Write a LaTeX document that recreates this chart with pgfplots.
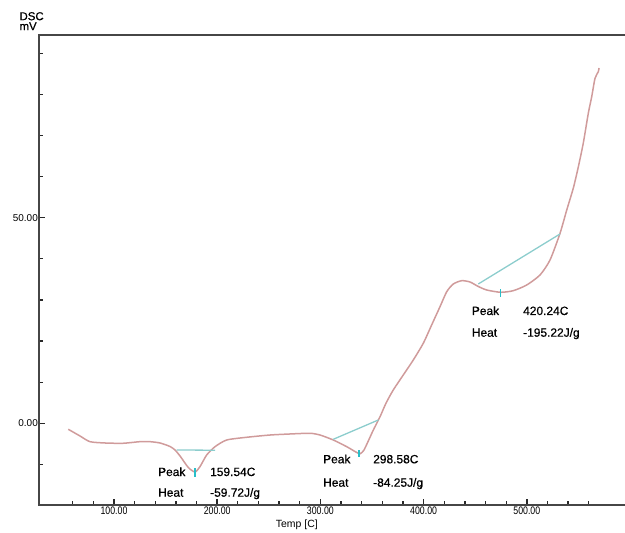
\documentclass[border=0pt]{standalone}
\usepackage{fontspec}
\setmainfont{Liberation Sans}
\newfontfamily\narrowfont[FakeStretch=0.8]{Liberation Sans}
\newfontfamily\annfont[FakeBold=0.6]{Liberation Sans}
\usepackage{pgfplots}
\pgfplotsset{compat=1.18}
\definecolor{curve}{RGB}{208,155,155}
\definecolor{base}{RGB}{140,205,205}
\definecolor{pk}{RGB}{40,190,200}
\definecolor{axisgray}{RGB}{70,70,70}
\definecolor{tickc}{RGB}{40,40,40}
\definecolor{txt}{RGB}{0,0,0}
\begin{document}
\begin{tikzpicture}
\begin{axis}[
  scale only axis, width=586bp, height=470bp,
  xmin=27.33, xmax=595.16, ymin=-19.87, ymax=94.43,
  axis line style={draw=none},
  clip=false,
  xtick={100,200,300,400,500},
  xticklabels={100.00,200.00,300.00,400.00,500.00},
  minor xtick={60,80,...,560},
  ytick={0,50}, yticklabels={0.00,50.00},
  minor ytick={-10,10,20,30,40,60,70,80,90},
  xtick pos=left, ytick pos=left,
  tick align=inside,
  major tick length=6bp, minor tick length=4bp,
  major tick style={tickc, line width=1.4bp},
  minor tick style={tickc, line width=1.3bp},
  /pgf/number format/assume math mode=true,
  xticklabel style={font=\narrowfont\fontsize{11}{12}\selectfont, text=txt, inner sep=1.5bp},
  yticklabel style={font=\fontsize{10}{12}\selectfont, text=txt, inner sep=1bp},
  xlabel={Temp [C]},
  xlabel style={at={(axis description cs:0.440,0)}, anchor=center, yshift=-20bp, font=\fontsize{10.5}{12}\selectfont, text=txt},
]
\draw[axisgray, line width=1.6bp] (rel axis cs:1,1) -- (rel axis cs:0,1) -- (rel axis cs:0,0) -- (rel axis cs:1,0);

% DSC curve
\addplot[curve, line width=1.5bp, smooth, tension=0.4] coordinates {
(55.7,-1.46) (67.1,-3.09) (76.7,-4.47) (91.3,-4.79) (108.7,-4.86)
(125.2,-4.47) (134.9,-4.47) (144.6,-4.79) (154.3,-5.64) (159.1,-6.49)
(164.0,-7.95) (172.0,-10.75) (178.5,-11.84) (183.3,-10.55) (189.8,-7.71)
(197.9,-5.69) (209.2,-4.06) (228.6,-3.40) (251.2,-2.85) (270.5,-2.60)
(289.9,-2.43) (299.6,-2.85) (312.5,-4.06) (325.5,-5.69) (334.5,-7.00)
(338.5,-7.40) (342.0,-6.60) (345.5,-4.80) (351.3,-1.63) (357.8,1.61) (363.5,4.86)
(370.6,8.10) (380.3,11.75) (390.0,15.39) (399.7,19.46) (407.8,23.91)
(415.9,28.36) (422.4,32.00) (428.8,33.88) (436.9,34.68) (445.0,34.36)
(453.0,33.27) (461.1,32.42) (474.7,31.86) (486.9,32.25) (499.9,33.63)
(512.8,36.07) (522.5,39.71) (532.2,46.21) (538.7,51.87) (545.1,57.22)
(549.9,62.33) (554.7,68.09) (559.6,75.39) (562.9,79.43) (566.1,83.90)
(569.3,85.51) (570.0,86.41)
};

% baselines
\addplot[base, line width=1.3bp] coordinates {(160.8,-6.49) (197.9,-6.55)};
\addplot[base, line width=1.3bp] coordinates {(312.5,-3.89) (356.1,0.80)};
\addplot[base, line width=1.3bp] coordinates {(453.0,33.88) (532.2,46.04)};

% peak markers
\addplot[pk, line width=1.5bp] coordinates {(178.5,-10.9) (178.5,-13.0)};
\addplot[pk, line width=1.5bp] coordinates {(337.5,-6.5) (337.5,-8.3)};
\addplot[pk, line width=1.5bp] coordinates {(474.7,32.6) (474.7,30.8)};

% anchor points for the annotations
\coordinate (a1) at (axis cs:142.6,-12.82);
\coordinate (b1) at (axis cs:193.0,-12.82);
\coordinate (c1) at (axis cs:142.6,-17.85);
\coordinate (d1) at (axis cs:193.0,-17.85);
\coordinate (a2) at (axis cs:302.5,-9.73);
\coordinate (b2) at (axis cs:351.0,-9.73);
\coordinate (c2) at (axis cs:302.5,-15.42);
\coordinate (d2) at (axis cs:351.0,-15.42);
\coordinate (a3) at (axis cs:446.6,26.34);
\coordinate (b3) at (axis cs:496.3,26.34);
\coordinate (c3) at (axis cs:446.6,21.06);
\coordinate (d3) at (axis cs:496.3,21.06);
\coordinate (lab) at (axis description cs:-0.0336,1.049);
\end{axis}
\begin{scope}[every node/.style={font=\annfont\fontsize{12}{13}\selectfont, text=txt, inner sep=0pt, anchor=base west}]
\node at (a1) {Peak};
\node at (b1) {159.54C};
\node at (c1) {Heat};
\node at (d1) {-59.72J/g};
\node at (a2) {Peak};
\node at (b2) {298.58C};
\node at (c2) {Heat};
\node at (d2) {-84.25J/g};
\node at (a3) {Peak};
\node at (b3) {420.24C};
\node at (c3) {Heat};
\node at (d3) {-195.22J/g};
\end{scope}
\node[anchor=north west, align=left, inner sep=0pt, font=\annfont\fontsize{11.5}{10}\selectfont, text=txt] at (lab) {DSC\\mV};
\pgfresetboundingbox
\useasboundingbox (-39bp,-28bp) rectangle (586bp,505bp);
\end{tikzpicture}
\end{document}
